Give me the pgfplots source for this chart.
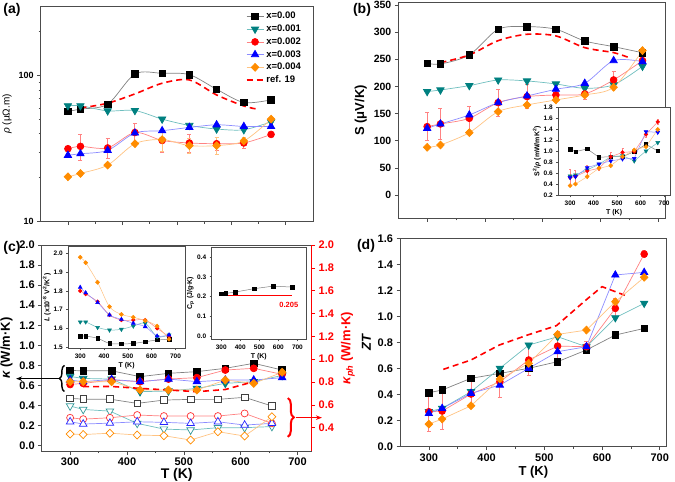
\documentclass[border=0pt]{standalone}
\usepackage{fontspec}
\setmainfont{Liberation Sans}
\usepackage{pgfplots}
\pgfplotsset{compat=1.18}
\usetikzlibrary{decorations.pathreplacing,arrows.meta}

\definecolor{cteal}{RGB}{0,128,128}
\definecolor{lteal}{RGB}{110,190,190}
\definecolor{corange}{RGB}{255,140,0}
\definecolor{lorange}{RGB}{255,195,130}
\definecolor{lred}{RGB}{255,130,130}
\definecolor{lblue}{RGB}{140,140,255}
\definecolor{lgray}{RGB}{130,130,130}

\pgfplotsset{
 base/.style={scale only axis, anchor=south west, tick align=outside, xtick pos=left, ytick pos=left,
   axis line style={black!70, line width=0.6pt}, major tick length=3.5pt, minor tick length=2pt,
   tick style={black!70, line width=0.6pt}, /pgf/number format/assume math mode=true, clip=false,
   ticklabel style={font=\bfseries\fontsize{11}{12}\selectfont},
   label style={font=\bfseries\fontsize{13}{15}\selectfont},
   every axis plot/.append style={line width=0.7pt}},
 inset/.style={base, axis background/.style={fill=white},
   ticklabel style={font=\bfseries\fontsize{6.5}{7}\selectfont},
   label style={font=\bfseries\fontsize{7}{8}\selectfont},
   major tick length=2pt, minor tick length=1pt,
   every axis plot/.append style={mark size=1.8pt, line width=0.5pt},
   xlabel style={yshift=3pt}, ylabel style={yshift=-4pt}},
 sK/.style={color=lgray, mark=square*, mark options={draw=black, fill=black, solid, scale=0.95}},
 sT/.style={color=lteal, mark=triangle*, mark options={draw=cteal, fill=cteal, solid, rotate=180, scale=1.25}},
 sR/.style={color=lred, mark=*, mark options={draw=red, fill=red, solid}},
 sB/.style={color=lblue, mark=triangle*, mark options={draw=blue, fill=blue, solid, scale=1.25}},
 sBd/.style={color=lblue, mark=triangle*, mark options={draw=blue, fill=blue, solid, rotate=180, scale=1.25}},
 sO/.style={color=lorange, mark=diamond*, mark options={draw=corange, fill=corange, solid, scale=1.15, xscale=1.3}},
 oK/.style={color=lgray, mark=square*, mark options={draw=black!75, fill=white, solid, scale=0.95}},
 oT/.style={color=lteal, mark=triangle*, mark options={draw=cteal!80, fill=white, solid, rotate=180, scale=1.25}},
 oR/.style={color=lred, mark=*, mark options={draw=red!80, fill=white, solid}},
 oB/.style={color=lblue, mark=triangle*, mark options={draw=blue!85, fill=white, solid, scale=1.25}},
 oO/.style={color=lorange, mark=diamond*, mark options={draw=corange, fill=white, solid, scale=1.15, xscale=1.3}},
 refl/.style={red, line width=1.6pt, dash pattern=on 6pt off 4pt, mark=none},
 errR/.style={error bars/y dir=both, error bars/y explicit,
   error bars/error bar style={lred, line width=0.9pt},
   error bars/error mark options={rotate=90, lred, mark size=2pt, line width=0.9pt}},
 errO/.style={error bars/y dir=both, error bars/y explicit,
   error bars/error bar style={lorange, line width=0.9pt},
   error bars/error mark options={rotate=90, lorange, mark size=2pt, line width=0.9pt}},
}

\begin{document}
\begin{tikzpicture}
\useasboundingbox (0,0) rectangle (675pt,482pt);

% ---------------- (a) ----------------
\begin{axis}[base, at={(40.7pt,260.3pt)}, width=272.3pt, height=215.7pt,
  xmin=250, xmax=750, ymode=log, ymin=10, ymax=300,
  xtick={300,400,500,600,700}, minor xtick={350,450,550,650}, xticklabels={},
  ytick={10,100}, yticklabels={10,100}, minor ytick={20,30,40,50,60,70,80,90,200},
  ticklabel style={font=\bfseries\fontsize{9}{10}\selectfont},
  ylabel={{\itshape ρ} (μΩ.m)}, ylabel style={font=\fontsize{10}{12}\selectfont},
  every axis plot/.append style={mark size=3.4pt},
  legend style={at={(0.975,0.99)}, anchor=north east, draw=none, fill=none,
    font=\bfseries\fontsize{9.5}{11}\selectfont, row sep=0.6pt},
  legend cell align=left]
\addplot[sK, smooth] coordinates {(300,56.9)(323,59)(373,63.8)(423,102.7)(473,103.8)(523,101.6)(573,80.7)(623,65.5)(673,68.3)};
\addlegendentry{x=0.00}
\addplot[sT, smooth] coordinates {(300,62.2)(323,62.2)(373,57.4)(423,57.7)(473,50.4)(523,45.6)(573,43.1)(623,42.6)(673,48.3)};
\addlegendentry{x=0.001}
\addplot[sR, smooth, errR] coordinates {(300,31.6) +- (0,1) (323,32.8) +- (0,6.5) (373,32) +- (0,5) (423,40.8) +- (0,6.5) (473,36) +- (0,6) (523,34.6) +- (0,5) (573,34.2) +- (0,3.5) (623,34.6) +- (0,3) (673,39.6) +- (0,1)};
\addlegendentry{x=0.002}
\addplot[sB, smooth] coordinates {(300,28.5)(323,29.2)(373,30.8)(423,40.5)(473,42)(523,44.2)(573,46.1)(623,44.9)(673,44.9)};
\addlegendentry{x=0.003}
\addplot[sO, smooth, errO] coordinates {(300,20.3) +- (0,0.5) (323,21.4) +- (0,0.5) (373,24.4) +- (0,0.5) (423,34.2) +- (0,1) (473,36.5) +- (0,6) (523,33.2) +- (0,4) (573,33.2) +- (0,4.5) (623,35.7) +- (0,2) (673,50.4) +- (0,1)};
\addlegendentry{x=0.004}
\addplot[refl, smooth] coordinates {(323,60)(373,64.8)(423,75)(473,88.7)(523,93.5)(573,73.8)(623,62)(648,59)};
\addlegendentry{ref. 19}
\end{axis}

% ---------------- (b) ----------------
\begin{axis}[base, at={(398.3pt,263.7pt)}, width=266.7pt, height=215.5pt,
  xmin=250, xmax=712, ymin=-43, ymax=354,
  xtick={300,400,500,600,700}, minor xtick={350,450,550,650}, xticklabels={},
  ytick={0,50,100,150,200,250,300,350},
  ticklabel style={font=\bfseries\fontsize{10.5}{12}\selectfont},
  ylabel={S (μV/K)}, ylabel style={font=\bfseries\fontsize{13}{15}\selectfont},
  every axis plot/.append style={mark size=3.4pt}]
\addplot[sK, smooth] coordinates {(300,242.6)(323,241.3)(373,257.9)(423,305.2)(473,310.1)(523,305.2)(573,283.7)(623,273.2)(673,262)};
\addplot[refl, smooth] coordinates {(323,243.8)(373,257.9)(423,284.3)(473,296)(523,293)(573,271.4)(623,262.2)(648,253.6)};
\addplot[sT, smooth] coordinates {(300,190.4)(323,193.4)(373,201.4)(423,211.8)(473,210)(523,204.5)(573,196.5)(623,203)(673,237)};
\addplot[sR, smooth, errR] coordinates {(300,125.9) +- (0,26) (323,130.8) +- (0,28) (373,141.2) +- (0,22) (423,170.1) +- (0,25) (473,181.2) +- (0,22) (523,184.2) +- (0,8) (573,186.1) +- (0,10) (623,211.9) +- (0,15) (673,247.5) +- (0,5)};
\addplot[sB, smooth] coordinates {(300,122.8)(323,130.8)(373,147.4)(423,170.1)(473,182.4)(523,194.7)(573,205.7)(623,247.5)(673,245.6)};
\addplot[sO, smooth] coordinates {(300,87.8)(323,92.1)(373,114.8)(423,153.5)(473,165.8)(523,175)(573,184.2)(623,198.4)(673,265.9)};
\end{axis}

% (b) inset
\begin{axis}[inset, at={(558.3pt,286.5pt)}, width=111.7pt, height=88.4pt,
  xmin=250, xmax=725, ymin=0.19, ymax=1.81,
  xtick={300,400,500,600,700}, ytick={0.2,0.4,0.6,0.8,1.0,1.2,1.4,1.6,1.8},
  yticklabel style={/pgf/number format/.cd, fixed, fixed zerofill, precision=1},
  xlabel={T (K)}, ylabel={S\textsuperscript{2}/{\itshape ρ} (mW/mK\textsuperscript{2})}]
\addplot[sK] coordinates {(300,1.037)(323,0.994)(373,1.043)(423,0.89)(473,0.902)(523,0.90)(573,0.994)(623,1.128)(673,1.006)};
\addplot[sT] coordinates {(300,0.548)(323,0.566)(373,0.658)(423,0.762)(473,0.9)(523,0.92)(573,0.823)(623,1.006)(673,1.159)};
\addplot[sR, errR, error bars/error mark options={rotate=90, lred, mark size=1pt}] coordinates {(300,0.518) +- (0,0.15) (323,0.536) +- (0,0.12) (373,0.64) +- (0,0.1) (423,0.689) +- (0,0.03) (473,0.90) +- (0,0.08) (523,0.98) +- (0,0.07) (573,0.994) +- (0,0.03) (623,1.31) +- (0,0.05) (673,1.54) +- (0,0.05)};
\addplot[sBd] coordinates {(300,0.518)(323,0.536)(373,0.70)(423,0.768)(473,0.823)(523,0.86)(573,0.87)(623,1.36)(673,1.348)};
\addplot[sO] coordinates {(300,0.371)(323,0.40)(373,0.536)(423,0.689)(473,0.737)(523,0.90)(573,1.024)(623,1.085)(673,1.40)};
\end{axis}

% ---------------- (c) left ----------------
\begin{axis}[base, at={(41.7pt,31pt)}, width=270pt, height=206pt,
  xmin=250, xmax=725, ymin=-0.053, ymax=2.0,
  xtick={300,400,500,600,700}, minor xtick={350,450,550,650},
  ytick={0,0.2,0.4,0.6,0.8,1.0,1.2,1.4,1.6,1.8,2.0},
  yticklabel style={/pgf/number format/.cd, fixed, fixed zerofill, precision=1},
  xlabel={T (K)}, xlabel style={font=\bfseries\fontsize{14}{16}\selectfont, yshift=4pt},
  ylabel={{\itshape κ} (W/m·K)},
  every axis plot/.append style={mark size=3.5pt}]
\addplot[sK] coordinates {(300,0.75)(323,0.746)(373,0.746)(423,0.688)(473,0.721)(523,0.738)(573,0.771)(623,0.821)(673,0.754)};
\addplot[sT] coordinates {(300,0.69)(323,0.67)(373,0.664)(423,0.538)(473,0.545)(523,0.571)(573,0.621)(623,0.638)(673,0.70)};
\addplot[sR] coordinates {(300,0.61)(323,0.621)(373,0.654)(423,0.638)(473,0.664)(523,0.678)(573,0.754)(623,0.771)(673,0.711)};
\addplot[sB] coordinates {(300,0.654)(323,0.638)(373,0.66)(423,0.638)(473,0.664)(523,0.638)(573,0.654)(623,0.654)(673,0.678)};
\addplot[sO] coordinates {(300,0.638)(323,0.638)(373,0.638)(423,0.555)(473,0.555)(523,0.555)(573,0.654)(623,0.621)(673,0.731)};
\addplot[refl] coordinates {(323,0.588)(373,0.59)(423,0.571)(473,0.555)(523,0.538)(573,0.56)(623,0.638)};
\draw[decorate, decoration={brace, amplitude=5pt}, line width=1.4pt] (axis cs:290,0.54) -- (axis cs:290,0.80);
\draw[-{Stealth[length=6pt]}, line width=1.1pt] (axis cs:280,0.668) -- (axis cs:205,0.668);
\end{axis}

% ---------------- (c) right ----------------
\begin{axis}[base, at={(41.7pt,31pt)}, width=270pt, height=206pt,
  xmin=250, xmax=725, ymin=0.196, ymax=2.0,
  axis x line=none, axis y line*=right, ytick pos=right,
  y axis line style={red, line width=0.8pt}, ytick style={red, line width=0.6pt},
  ytick={0.4,0.6,0.8,1.0,1.2,1.4,1.6,1.8,2.0},
  yticklabel style={red, /pgf/number format/.cd, fixed, fixed zerofill, precision=1},
  ylabel={{\itshape κ}\textsubscript{\itshape ph} (W/m·K)}, ylabel style={red},
  every axis plot/.append style={mark size=3.5pt}]
\addplot[oK] coordinates {(300,0.657)(323,0.65)(370,0.65)(418,0.613)(465,0.642)(512,0.648)(560,0.648)(607,0.666)(655,0.59)};
\addplot[oT] coordinates {(300,0.59)(323,0.56)(370,0.545)(418,0.438)(465,0.388)(512,0.38)(560,0.40)(607,0.40)(655,0.41)};
\addplot[oR] coordinates {(300,0.487)(323,0.475)(370,0.487)(418,0.511)(465,0.502)(512,0.502)(560,0.502)(607,0.525)(655,0.438)};
\addplot[oB] coordinates {(300,0.452)(323,0.432)(370,0.44)(418,0.452)(465,0.447)(512,0.438)(560,0.452)(607,0.423)(655,0.438)};
\addplot[oO] coordinates {(300,0.345)(323,0.34)(370,0.352)(418,0.336)(465,0.330)(512,0.292)(560,0.365)(607,0.327)(655,0.496)};
\draw[red, decorate, decoration={brace, amplitude=6pt}, line width=2pt] (axis cs:683,0.66) -- (axis cs:683,0.32);
\draw[red, -{Stealth[length=6pt]}, line width=1.1pt] (axis cs:697,0.488) -- (axis cs:743,0.488);
\end{axis}

% (c) L inset
\begin{axis}[inset, at={(68.3pt,133.7pt)}, width=116.7pt, height=101.6pt,
  xmin=250, xmax=740, ymin=1.495, ymax=2.035,
  xtick={300,400,500,600,700}, ytick={1.5,1.6,1.7,1.8,1.9,2.0},
  yticklabel style={/pgf/number format/.cd, fixed, fixed zerofill, precision=1},
  xlabel={T (K)}, ylabel={{\itshape L} (x10\textsuperscript{-8} V\textsuperscript{2}/K\textsuperscript{2})}]
\addplot[sK, smooth] coordinates {(300,1.56)(323,1.56)(373,1.548)(423,1.521)(473,1.518)(523,1.521)(573,1.53)(623,1.539)(673,1.543)};
\addplot[sT, smooth] coordinates {(300,1.635)(323,1.635)(373,1.606)(423,1.592)(473,1.596)(523,1.613)(573,1.628)(623,1.557)(673,1.566)};
\addplot[sR, smooth] coordinates {(300,1.80)(323,1.783)(373,1.743)(423,1.672)(473,1.645)(523,1.645)(573,1.645)(623,1.601)(673,1.557)};
\addplot[sB, smooth] coordinates {(300,1.819)(323,1.79)(373,1.738)(423,1.672)(473,1.649)(523,1.628)(573,1.61)(623,1.56)(673,1.566)};
\addplot[sO, smooth] coordinates {(300,1.979)(323,1.95)(373,1.846)(423,1.716)(473,1.675)(523,1.66)(573,1.642)(623,1.613)(673,1.543)};
\end{axis}

% (c) Cp inset
\begin{axis}[inset, at={(211.7pt,142.7pt)}, width=94.3pt, height=92.3pt,
  xmin=250, xmax=745, ymin=-0.015, ymax=0.45,
  xtick={300,400,500,600,700}, ytick={0,0.1,0.2,0.3,0.4},
  yticklabel style={/pgf/number format/.cd, fixed, fixed zerofill, precision=1},
  xlabel={T (K)}, ylabel={C\textsubscript{p} (J/g·K)}]
\addplot[red, line width=1.2pt, mark=none] coordinates {(300,0.205)(673,0.205)};
\addplot[sK] coordinates {(300,0.215)(323,0.216)(373,0.223)(473,0.24)(573,0.253)(673,0.248)};
\node[red, font=\bfseries\fontsize{7.5}{8}\selectfont] at (axis cs:655,0.16) {0.205};
\end{axis}

% ---------------- (d) ----------------
\begin{axis}[base, at={(400pt,35.3pt)}, width=266.7pt, height=208pt,
  xmin=250, xmax=712, ymin=0, ymax=1.6,
  xtick={300,400,500,600,700}, minor xtick={350,450,550,650},
  ytick={0,0.2,0.4,0.6,0.8,1.0,1.2,1.4,1.6},
  yticklabel style={/pgf/number format/.cd, fixed, fixed zerofill, precision=1},
  xlabel={T (K)}, xlabel style={yshift=2pt}, ylabel={{\itshape ZT}},
  every axis plot/.append style={mark size=3.4pt}]
\addplot[refl] coordinates {(325,0.595)(373,0.667)(422,0.782)(471,0.859)(521,0.931)(572,1.128)(600,1.231)(643,1.159)};
\addplot[sK] coordinates {(300,0.415)(323,0.436)(373,0.526)(423,0.564)(473,0.603)(523,0.654)(573,0.744)(623,0.859)(673,0.91)};
\addplot[sT] coordinates {(300,0.27)(323,0.295)(373,0.423)(423,0.603)(473,0.782)(523,0.846)(573,0.769)(623,0.992)(673,1.103)};
\addplot[sR, errR] coordinates {(300,0.269) +- (0,0.15) (323,0.274) +- (0,0.14) (373,0.405) +- (0,0.1) (423,0.50) +- (0,0.12) (473,0.667) +- (0,0.12) (523,0.774) +- (0,0.11) (573,0.769) +- (0,0.04) (623,1.064) +- (0,0.08) (673,1.482) +- (0,0.03)};
\addplot[sB] coordinates {(300,0.256)(323,0.295)(373,0.41)(423,0.474)(473,0.603)(523,0.731)(573,0.769)(623,1.321)(673,1.341)};
\addplot[sO] coordinates {(300,0.174)(323,0.213)(373,0.315)(423,0.521)(473,0.641)(523,0.864)(573,0.897)(623,1.115)(673,1.303)};
\end{axis}

% panel letters
\node[font=\bfseries\fontsize{14}{16}\selectfont] at (12pt,472pt) {(a)};
\node[font=\bfseries\fontsize{14}{16}\selectfont] at (362pt,472pt) {(b)};
\node[font=\bfseries\fontsize{14}{16}\selectfont] at (12pt,234.5pt) {(c)};
\node[font=\bfseries\fontsize{14}{16}\selectfont] at (366pt,236pt) {(d)};
\end{tikzpicture}
\end{document}
